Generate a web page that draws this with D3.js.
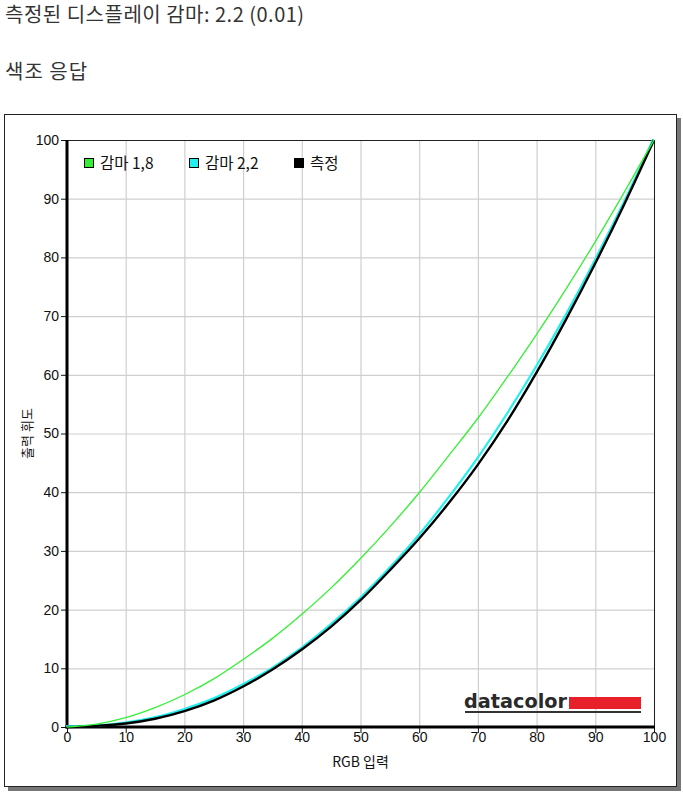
<!DOCTYPE html>
<html><head><meta charset="utf-8">
<script src="https://cdn.jsdelivr.net/npm/d3@7/dist/d3.min.js"></script>
<style>
body{margin:0;background:#fff;}
svg{display:block;}
</style></head>
<body>
<script>
// ---- data ----
const xInput = [0,5,10,15,20,25,30,35,40,45,50,55,60,65,70,75,80,85,90,95,100];
const gamma18 = [0,0.5,1.6,3.3,5.5,8.2,11.5,15.1,19.2,23.7,28.7,34.1,39.9,46.2,52.6,59.6,66.9,74.6,82.7,91.2,100];
const gamma22 = [0,0.1,0.6,1.5,2.9,4.7,7.1,9.9,13.3,17.3,21.8,26.9,32.5,38.8,45.6,53.1,61.2,69.9,79.3,89.3,100];
const measured = [0,0.2,0.6,1.4,2.7,4.5,6.9,9.8,13.2,17.1,21.6,26.7,32.1,38.1,44.7,52.1,60.4,69.4,79.0,89.2,100];
const ticks = [0,10,20,30,40,50,60,70,80,90,100];
const seriesNames = ["감마 1,8","감마 2,2","측정"];
const seriesColors = ["#33f033","#22f0f0","#000000"];

const W=683,H=794;
const svg=d3.select("body").append("svg").attr("width",W).attr("height",H);
const kr="'Noto Sans CJK KR', sans-serif";

// titles
svg.append("text").attr("x",5).attr("y",22).attr("font-family",kr).attr("font-size",20).attr("letter-spacing",0.5).attr("fill","#333").text("측정된 디스플레이 감마: 2.2 (0.01)");
svg.append("text").attr("x",5).attr("y",79).attr("font-family",kr).attr("font-size",20).attr("letter-spacing",1).attr("fill","#333").text("색조 응답");

// frame with shadow
svg.append("rect").attr("x",8).attr("y",118).attr("width",673).attr("height",673).attr("fill","#777");
svg.append("rect").attr("x",4.5).attr("y",114.5).attr("width",672).attr("height",672).attr("fill","#fff").attr("stroke","#222").attr("stroke-width",1);

const L=67,R=654,T=140,B=727;
const x=d3.scaleLinear().domain([0,100]).range([L,R]);
const y=d3.scaleLinear().domain([0,100]).range([B,T]);

// grid
const g=svg.append("g");
g.selectAll(".vg").data(ticks).join("line").attr("x1",d=>x(d)+0.5).attr("x2",d=>x(d)+0.5).attr("y1",T).attr("y2",B).attr("stroke","#cfcfcf").attr("stroke-width",1.2);
g.selectAll(".hg").data(ticks).join("line").attr("y1",d=>y(d)+0.5).attr("y2",d=>y(d)+0.5).attr("x1",L).attr("x2",R).attr("stroke","#cfcfcf").attr("stroke-width",1.2);
// top & right border
svg.append("line").attr("x1",L).attr("x2",R).attr("y1",T+0.5).attr("y2",T+0.5).attr("stroke","#222");
svg.append("line").attr("x1",R+0.5).attr("x2",R+0.5).attr("y1",T).attr("y2",B).attr("stroke","#222");

// axes
const fontTick="'Liberation Sans Narrow', 'Liberation Sans', Arial, sans-serif";
const xa=svg.append("g").attr("transform",`translate(0,${B})`).call(d3.axisBottom(x).tickValues(ticks).tickSize(6).tickSizeOuter(0));
const ya=svg.append("g").attr("transform",`translate(${L},0)`).call(d3.axisLeft(y).tickValues(ticks).tickSize(6).tickSizeOuter(0));
[xa,ya].forEach(a=>{a.attr("font-size",14).attr("font-family",fontTick);a.select(".domain").remove();a.selectAll("text").attr("fill","#111");a.selectAll("line").attr("stroke","#111");});
xa.selectAll("text").attr("dy","0.9em").attr("y",2);
ya.selectAll("text").attr("x",-8);
// thick axis lines
svg.append("line").attr("x1",L).attr("x2",L).attr("y1",T).attr("y2",B+1.5).attr("stroke","#000").attr("stroke-width",3);
svg.append("line").attr("x1",L-1.5).attr("x2",R+1).attr("y1",B).attr("y2",B).attr("stroke","#000").attr("stroke-width",3);

// axis titles
svg.append("text").attr("x",x(50)).attr("y",767).attr("text-anchor","middle").attr("font-family",kr).attr("font-size",14).attr("fill","#111").text("RGB 입력");
svg.append("text").attr("transform",`translate(32,${(T+B)/2}) rotate(-90)`).attr("text-anchor","middle").attr("font-family",kr).attr("font-size",13).attr("fill","#111").text("출력 휘도");

// lines
const lineGen=arr=>d3.line().x((d,i)=>x(xInput[i])).y(d=>y(d)).curve(d3.curveMonotoneX)(arr);
const pg=svg.append("g");
pg.append("path").attr("d",lineGen(gamma22)).attr("fill","none").attr("stroke",seriesColors[1]).attr("stroke-width",2.2).attr("transform","translate(-0.8,-0.8)");
pg.append("path").attr("d",lineGen(measured)).attr("fill","none").attr("stroke",seriesColors[2]).attr("stroke-width",2.4);
pg.append("path").attr("d",lineGen(gamma18)).attr("fill","none").attr("stroke",seriesColors[0]).attr("stroke-width",1.3);

// legend
const legX=[84,189,294];
seriesNames.forEach((n,i)=>{
  svg.append("rect").attr("x",legX[i]+0.5).attr("y",158.5).attr("width",9).attr("height",9).attr("fill",seriesColors[i]).attr("stroke","#000").attr("stroke-width",1);
  svg.append("text").attr("x",legX[i]+16).attr("y",169).attr("font-family",kr).attr("font-size",15.5).attr("fill","#111").text(n);
});

// datacolor logo
svg.append("text").attr("x",464).attr("y",708).attr("font-family","'DejaVu Sans', sans-serif").attr("font-weight","bold").attr("font-size",20).attr("fill","#2a2a2a").attr("textLength",103).attr("lengthAdjust","spacingAndGlyphs").text("datacolor");
svg.append("rect").attr("x",569).attr("y",697).attr("width",72).attr("height",12).attr("fill","#e8202a");
svg.append("rect").attr("x",465).attr("y",711).attr("width",176).attr("height",2).attr("fill","#333");
</script>
</body></html>
